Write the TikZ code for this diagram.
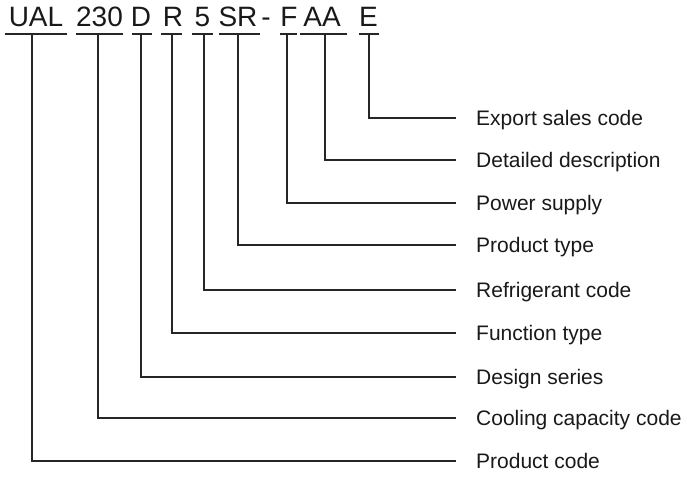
\documentclass[tikz,border=0pt]{standalone}
\usepackage{fontspec}
\setmainfont{Liberation Sans}
\begin{document}
\begin{tikzpicture}[x=1pt,y=-1pt,
  code/.style={anchor=base,inner sep=0pt,font=\fontsize{28}{30}\selectfont,text=black!90},
  lbl/.style={anchor=base west,inner sep=0pt,font=\fontsize{21}{24}\selectfont,text=black!90},
  ul/.style={line width=1.3pt,draw=black!85},
  conn/.style={line width=1.3pt,draw=black!85}]
\useasboundingbox (0,0) rectangle (687,476);
% codes
\node[code] (cUAL) at (36,27) {UAL};
\node[code] (c230) at (99.5,27) {230};
\node[code] (cD) at (141,27) {D};
\node[code] (cR) at (173,27) {R};
\node[code] (c5) at (202.5,27) {5};
\node[code] (cSR) at (238,27) {SR};
\node[code] (cdash) at (266,27) {-};
\node[code] (cF) at (289,27) {F};
\node[code] (cAA) at (322,27) {AA};
\node[code] (cE) at (368.5,27) {E};
% underlines
\draw[ul] (5,34) -- (67,34);
\draw[ul] (76,34) -- (123,34);
\draw[ul] (132,34) -- (152,34);
\draw[ul] (161,34) -- (182,34);
\draw[ul] (192,34) -- (213,34);
\draw[ul] (219,34) -- (260,34);
\draw[ul] (280,34) -- (297,34);
\draw[ul] (300,34) -- (347,34);
\draw[ul] (359,34) -- (379,34);
% connector start points
\coordinate (s1) at (32,34);
\coordinate (s2) at (98,34);
\coordinate (s3) at (141,34);
\coordinate (s4) at (172,34);
\coordinate (s5) at (204,34);
\coordinate (s6) at (238,34);
\coordinate (s7) at (287,34);
\coordinate (s8) at (325,34);
\coordinate (s9) at (369,34);
% connector end points
\coordinate (e1) at (456,461);
\coordinate (e2) at (456,418);
\coordinate (e3) at (456,377);
\coordinate (e4) at (456,333);
\coordinate (e5) at (456,290);
\coordinate (e6) at (456,245);
\coordinate (e7) at (456,203);
\coordinate (e8) at (456,160);
\coordinate (e9) at (456,118);
% labels
\node[lbl] (l1) at (476,468.5) {Product code};
\node[lbl] (l2) at (476,425.5) {Cooling capacity code};
\node[lbl] (l3) at (476,384.5) {Design series};
\node[lbl] (l4) at (476,340.5) {Function type};
\node[lbl] (l5) at (476,297.5) {Refrigerant code};
\node[lbl] (l6) at (476,252.5) {Product type};
\node[lbl] (l7) at (476,210.5) {Power supply};
\node[lbl] (l8) at (476,167.5) {Detailed description};
\node[lbl] (l9) at (476,125.5) {Export sales code};
% connectors
\foreach \i in {1,...,9}{
  \draw[conn] (s\i) |- (e\i);
}
\end{tikzpicture}
\end{document}
